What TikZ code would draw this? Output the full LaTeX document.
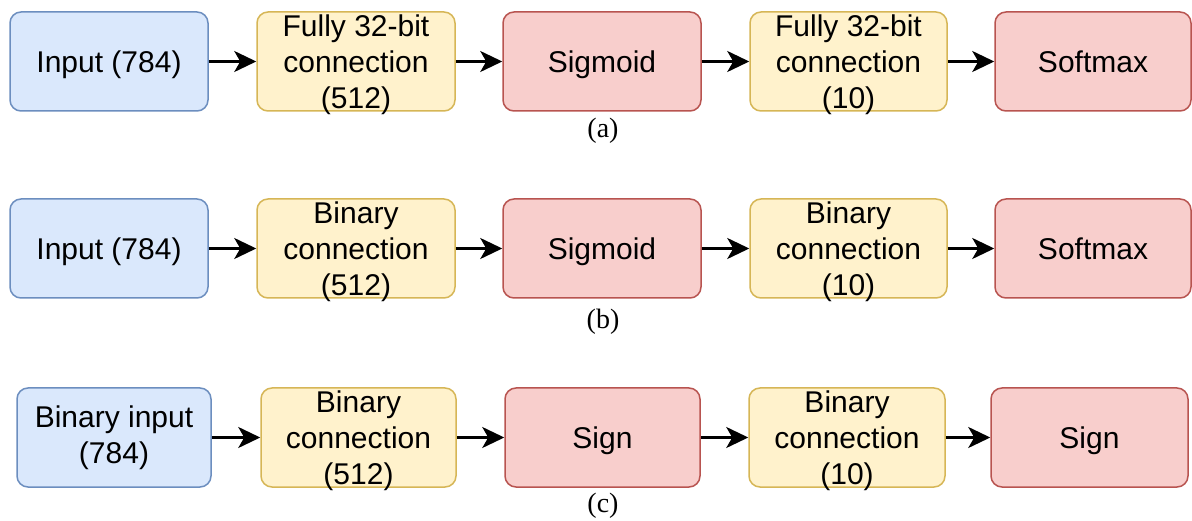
\documentclass[tikz,border=0pt]{standalone}
\usepackage{fontspec}
\setmainfont{Liberation Sans}
\newfontfamily\capfont{Liberation Serif}
\usetikzlibrary{arrows.meta}
\definecolor{bfill}{HTML}{DAE8FC}
\definecolor{bdraw}{HTML}{6C8EBF}
\definecolor{yfill}{HTML}{FFF2CC}
\definecolor{ydraw}{HTML}{D6B656}
\definecolor{rfill}{HTML}{F8CECC}
\definecolor{rdraw}{HTML}{B85450}
\begin{document}
\begin{tikzpicture}[x=1pt,y=-1pt,
  box/.style={draw, rounded corners=11pt, line width=1.5pt, minimum height=99pt,
    inner sep=0pt, align=center, font=\fontsize{30}{36}\selectfont},
  oneline/.style={text height=22pt, text depth=0pt},
  mtext/.style={font=\fontsize{30}{36}\selectfont, align=center, inner sep=0pt, yshift=-3pt},
  bbox/.style={box, fill=bfill, draw=bdraw},
  ybox/.style={box, fill=yfill, draw=ydraw},
  rbox/.style={box, fill=rfill, draw=rdraw},
  capt/.style={font=\capfont\fontsize{28}{30}\selectfont, inner sep=0pt},
  arr/.style={-{Stealth[length=22pt,width=21pt,inset=6pt]}, line width=2.5pt, black}]
\useasboundingbox (0,0) rectangle (1192,521);
% row a
\node[bbox, oneline, minimum width=198pt] (a1) at (109,61.5) {Input (784)};
\node[ybox, minimum width=198pt, label={[mtext, name=a2t]center:Fully 32-bit\\connection\\(512)}] (a2) at (356,61.5) {};
\node[rbox, oneline, minimum width=198pt] (a3) at (602,61.5) {Sigmoid};
\node[ybox, minimum width=197pt, label={[mtext, name=a4t]center:Fully 32-bit\\connection\\(10)}] (a4) at (848.5,61.5) {};
\node[rbox, oneline, minimum width=196pt] (a5) at (1093,61.5) {Softmax};
\draw[arr] (a1) -- (a2);
\draw[arr] (a2) -- (a3);
\draw[arr] (a3) -- (a4);
\draw[arr] (a4) -- (a5);
\node[capt] (ca) at (603,131) {(a)};
% row b
\node[bbox, oneline, minimum width=198pt] (b1) at (109,248.5) {Input (784)};
\node[ybox, minimum width=198pt, label={[mtext, name=b2t]center:Binary\\connection\\(512)}] (b2) at (356,248.5) {};
\node[rbox, oneline, minimum width=198pt] (b3) at (602,248.5) {Sigmoid};
\node[ybox, minimum width=197pt, label={[mtext, name=b4t]center:Binary\\connection\\(10)}] (b4) at (848.5,248.5) {};
\node[rbox, oneline, minimum width=196pt] (b5) at (1093,248.5) {Softmax};
\draw[arr] (b1) -- (b2);
\draw[arr] (b2) -- (b3);
\draw[arr] (b3) -- (b4);
\draw[arr] (b4) -- (b5);
\node[capt] (cb) at (603,322) {(b)};
% row c
\node[bbox, minimum width=194pt] (c1) at (114,437.5) {Binary input\\(784)};
\node[ybox, minimum width=195pt, label={[mtext, name=c2t]center:Binary\\connection\\(512)}] (c2) at (358.5,437.5) {};
\node[rbox, oneline, minimum width=195pt] (c3) at (602.5,437.5) {Sign};
\node[ybox, minimum width=196pt, label={[mtext, name=c4t]center:Binary\\connection\\(10)}] (c4) at (847,437.5) {};
\node[rbox, oneline, minimum width=197pt] (c5) at (1089.5,437.5) {Sign};
\draw[arr] (c1) -- (c2);
\draw[arr] (c2) -- (c3);
\draw[arr] (c3) -- (c4);
\draw[arr] (c4) -- (c5);
\node[capt] (cc) at (603,506) {(c)};
\end{tikzpicture}
\end{document}
